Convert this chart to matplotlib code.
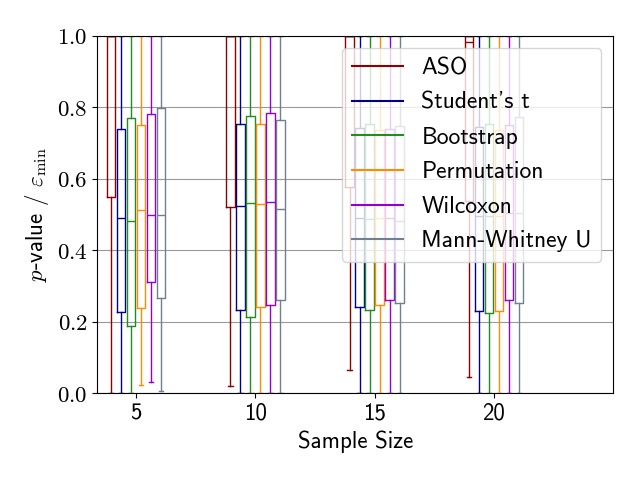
import matplotlib
matplotlib.use("Agg")
import matplotlib.pyplot as plt
from matplotlib.lines import Line2D

plt.rcParams['font.family'] = ['cmss10', 'DejaVu Sans']
plt.rcParams['mathtext.fontset'] = 'cm'
plt.rcParams['axes.formatter.use_mathtext'] = True
plt.rcParams['font.size'] = 16.5

sample_sizes = [5, 10, 15, 20]
methods = ["ASO", "Student's t", "Bootstrap", "Permutation", "Wilcoxon", "Mann-Whitney U"]
colors = ["darkred", "darkblue", "forestgreen", "darkorange", "darkviolet", "slategray"]

# per method: lists over sample sizes
q1 = {
    "ASO":            [0.550, 0.521, 0.578, 0.539],
    "Student's t":    [0.226, 0.232, 0.240, 0.229],
    "Bootstrap":      [0.188, 0.213, 0.232, 0.223],
    "Permutation":    [0.238, 0.241, 0.246, 0.229],
    "Wilcoxon":       [0.310, 0.246, 0.261, 0.261],
    "Mann-Whitney U": [0.266, 0.261, 0.251, 0.253],
}
med = {
    "ASO":            [1.000, 1.000, 1.000, 0.982],
    "Student's t":    [0.489, 0.523, 0.489, 0.496],
    "Bootstrap":      [0.483, 0.533, 0.487, 0.496],
    "Permutation":    [0.512, 0.529, 0.489, 0.496],
    "Wilcoxon":       [0.498, 0.536, 0.489, 0.503],
    "Mann-Whitney U": [0.498, 0.515, 0.483, 0.503],
}
q3 = {
    "ASO":            [1.000, 1.000, 1.000, 1.000],
    "Student's t":    [0.739, 0.754, 0.743, 0.744],
    "Bootstrap":      [0.769, 0.777, 0.754, 0.753],
    "Permutation":    [0.750, 0.754, 0.737, 0.737],
    "Wilcoxon":       [0.781, 0.783, 0.739, 0.751],
    "Mann-Whitney U": [0.797, 0.764, 0.747, 0.772],
}
whislo = {
    "ASO":            [0.000, 0.021, 0.064, 0.046],
    "Student's t":    [0.000, 0.000, 0.000, 0.000],
    "Bootstrap":      [0.000, 0.000, 0.000, 0.000],
    "Permutation":    [0.022, 0.000, 0.000, 0.000],
    "Wilcoxon":       [0.032, 0.000, 0.000, 0.000],
    "Mann-Whitney U": [0.006, 0.000, 0.000, 0.000],
}
whishi = {m: [1.0, 1.0, 1.0, 1.0] for m in methods}

y_ticks = [0.0, 0.2, 0.4, 0.6, 0.8, 1.0]
y_ticklabels = ["$0.0$", "$0.2$", "$0.4$", "$0.6$", "$0.8$", "$1.0$"]

fig, ax = plt.subplots(figsize=(6.4, 4.8), dpi=100)
fig.subplots_adjust(left=0.152, right=0.958, top=0.925, bottom=0.181)

spacing = 0.42
width = 0.36
n = len(methods)
for i, (m, c) in enumerate(zip(methods, colors)):
    off = (i - (n - 1) / 2) * spacing
    stats = []
    for j, s in enumerate(sample_sizes):
        stats.append(dict(med=med[m][j], q1=q1[m][j], q3=q3[m][j],
                          whislo=whislo[m][j], whishi=whishi[m][j], fliers=[]))
    pos = [s + off for s in sample_sizes]
    ax.bxp(stats, positions=pos, widths=width, showfliers=False, manage_ticks=False,
           boxprops=dict(color=c, linewidth=1.0),
           medianprops=dict(color=c, linewidth=1.0),
           whiskerprops=dict(color=c, linewidth=1.0),
           capprops=dict(color=c, linewidth=1.0))

ax.set_xlim(3.37, 25.0)
ax.set_ylim(0, 1)
ax.set_xticks(sample_sizes)
ax.set_xticklabels([str(s) for s in sample_sizes])
ax.set_yticks(y_ticks)
ax.set_yticklabels(y_ticklabels)
ax.yaxis.grid(True, color='gray', linewidth=0.8, alpha=0.8)
ax.set_axisbelow(True)
ax.set_xlabel("Sample Size")
ax.set_ylabel(r"$p$-value / $\varepsilon_{\mathrm{min}}$")

handles = [Line2D([0], [0], color=c, linewidth=1.5) for c in colors]
ax.legend(handles, methods, loc='upper right', fontsize=17, labelspacing=0.535,
          handlelength=2.15)

fig.savefig("out.png", dpi=100)
